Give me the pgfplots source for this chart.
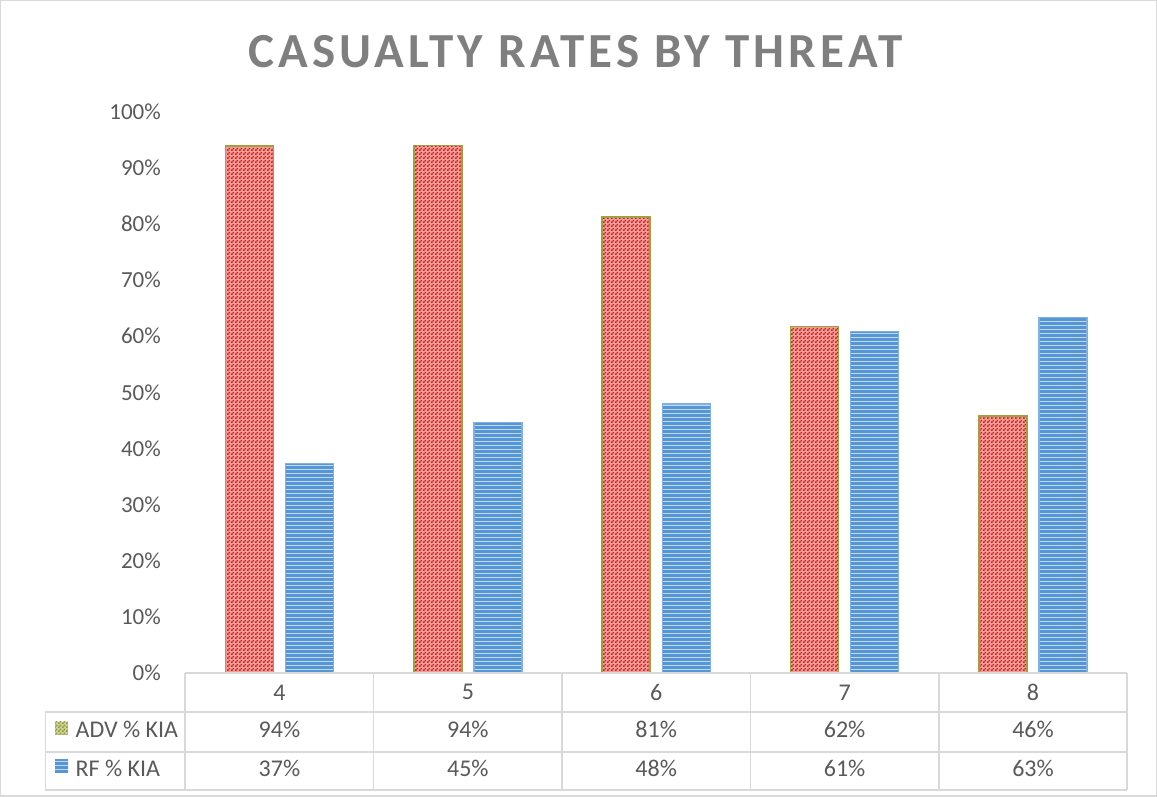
\documentclass[border=0pt]{standalone}
\usepackage{fontspec}
\setmainfont{Carlito}
\usepackage{pgfplots}
\pgfplotsset{compat=1.18}
\usepackage{pgfplotstable}
\usetikzlibrary{patterns}

\definecolor{textgray}{HTML}{595959}
\definecolor{titlegray}{HTML}{7F7F7F}
\definecolor{rulegray}{HTML}{D9D9D9}
\definecolor{advred}{HTML}{D8141C}
\definecolor{advlight}{HTML}{F3A29A}
\definecolor{advedge}{HTML}{A0A040}
\definecolor{advkey}{HTML}{8E9A3A}
\definecolor{advkeylight}{HTML}{D0D49A}
\definecolor{rfblue}{HTML}{5596D6}
\definecolor{rflight}{HTML}{C4DAF0}
\definecolor{rfedge}{HTML}{7FB2E3}

% fine checkerboard and horizontal stripes
\pgfdeclarepatternformonly{checker}{\pgfpointorigin}{\pgfqpoint{1.8pt}{1.8pt}}{\pgfqpoint{1.8pt}{1.8pt}}{%
  \pgfpathrectangle{\pgfpointorigin}{\pgfqpoint{0.9pt}{0.9pt}}%
  \pgfpathrectangle{\pgfqpoint{0.9pt}{0.9pt}}{\pgfqpoint{0.9pt}{0.9pt}}%
  \pgfusepath{fill}}
\pgfdeclarepatternformonly{hstripes}{\pgfqpoint{-0.2pt}{0pt}}{\pgfqpoint{4.2pt}{2pt}}{\pgfqpoint{4pt}{2pt}}{%
  \pgfpathrectangle{\pgfqpoint{-0.2pt}{0pt}}{\pgfqpoint{4.4pt}{1.25pt}}%
  \pgfusepath{fill}}

\pgfplotstableread{
x adv rf
0 93.9 37.3
1 94.0 44.6
2 81.3 47.9
3 61.7 60.8
4 45.8 63.3
}\casualty

\newcommand{\tickfont}{\fontsize{11.5}{13}\selectfont}
\newcommand{\tablefont}{\fontsize{12}{14}\selectfont}

\begin{document}
\begin{tikzpicture}
\begin{axis}[
  scale only axis,
  width=471pt, height=280.5pt,
  xmin=-0.5, xmax=4.5, ymin=0, ymax=100,
  clip=false,
  axis line style={draw=none},
  major tick length=0pt,
  xtick={0,...,4}, xticklabels={4,5,6,7,8},
  xticklabel style={anchor=center, yshift=-9.75pt, font=\tablefont},
  ytick={0,10,...,100},
  yticklabel={\pgfmathprintnumber{\tick}\%},
  yticklabel style={xshift=-8.7pt, font=\tickfont},
  tick label style={text=textgray},
  /pgf/number format/assume math mode=true,
]
% outer frame
\draw[rulegray, line width=0.75pt] (axis cs:-1.4793,119.8) rectangle (axis cs:4.654,-21.93);

% title
\node[font=\fontsize{24.5}{28}\selectfont\bfseries\addfontfeatures{LetterSpace=8.5}, text=titlegray]
  at (axis cs:1.57,110.7) {CASUALTY RATES BY THREAT};

% bars
\addplot[ybar, bar width=24pt, bar shift=-15pt, draw=advedge, line width=0.8pt,
  fill=advlight, postaction={pattern=checker, pattern color=advred}]
  table[x=x, y=adv]{\casualty};
\addplot[ybar, bar width=24pt, bar shift=15pt, draw=rfedge, line width=0.7pt,
  fill=rflight, postaction={pattern=hstripes, pattern color=rfblue}]
  table[x=x, y=rf]{\casualty};

% data table grid
\draw[rulegray, line width=0.75pt]
  (axis cs:-0.5,0) -- (axis cs:4.5,0)
  (axis cs:-1.243,-6.95) -- (axis cs:4.5,-6.95)
  (axis cs:-1.243,-14.08) -- (axis cs:4.5,-14.08)
  (axis cs:-1.243,-20.86) -- (axis cs:4.5,-20.86)
  (axis cs:-1.243,-6.95) -- (axis cs:-1.243,-20.86)
  (axis cs:-0.5,0) -- (axis cs:-0.5,-20.86)
  (axis cs:0.5,0) -- (axis cs:0.5,-20.86)
  (axis cs:1.5,0) -- (axis cs:1.5,-20.86)
  (axis cs:2.5,0) -- (axis cs:2.5,-20.86)
  (axis cs:3.5,0) -- (axis cs:3.5,-20.86)
  (axis cs:4.5,0) -- (axis cs:4.5,-20.86);

% legend keys and row labels
\fill[advkeylight] (axis cs:-1.190,-8.73) rectangle (axis cs:-1.121,-11.05);
\fill[pattern=checker, pattern color=advkey] (axis cs:-1.190,-8.73) rectangle (axis cs:-1.121,-11.05);
\fill[rflight] (axis cs:-1.190,-15.5) rectangle (axis cs:-1.121,-17.8);
\fill[pattern=hstripes, pattern color=rfblue] (axis cs:-1.190,-15.5) rectangle (axis cs:-1.121,-17.8);
\node[anchor=west, font=\tablefont, text=textgray, inner sep=0pt] at (axis cs:-1.084,-10.0) {ADV \% KIA};
\node[anchor=west, font=\tablefont, text=textgray, inner sep=0pt] at (axis cs:-1.084,-17.0) {RF \% KIA};

% table values, printed from the same data
\addplot[draw=none, mark=none, point meta=explicit,
  nodes near coords={\pgfmathprintnumber[fixed, precision=0]{\pgfplotspointmeta}\%},
  every node near coord/.append style={anchor=center, font=\tablefont, text=textgray, inner sep=0pt}]
  table[x=x, y expr=-10.0, meta=adv]{\casualty};
\addplot[draw=none, mark=none, point meta=explicit,
  nodes near coords={\pgfmathprintnumber[fixed, precision=0]{\pgfplotspointmeta}\%},
  every node near coord/.append style={anchor=center, font=\tablefont, text=textgray, inner sep=0pt}]
  table[x=x, y expr=-17.0, meta=rf]{\casualty};
\end{axis}
\end{tikzpicture}
\end{document}
